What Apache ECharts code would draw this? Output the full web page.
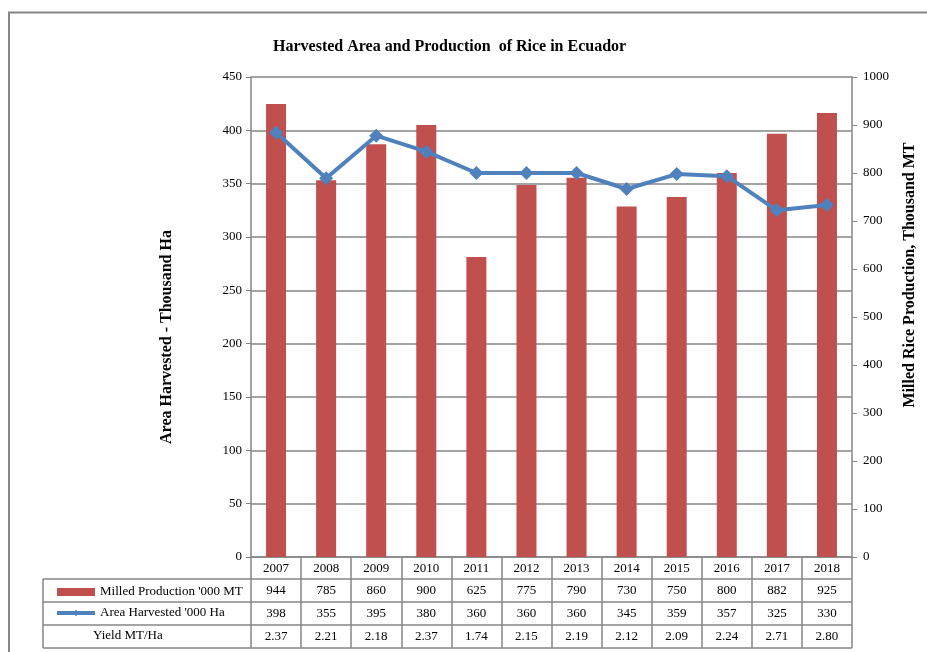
<!DOCTYPE html>
<html>
<head>
<meta charset="utf-8">
<script src="https://cdn.jsdelivr.net/npm/echarts@6/dist/echarts.min.js"></script>
<style>
  html, body { margin: 0; padding: 0; background: #fff; }
  #chart { width: 927px; height: 652px; }
</style>
</head>
<body>
<div id="chart"></div>
<script>
const years = ["2007", "2008", "2009", "2010", "2011", "2012", "2013", "2014", "2015", "2016", "2017", "2018"];
const production = [944, 785, 860, 900, 625, 775, 790, 730, 750, 800, 882, 925];
const areaHarvested = [398, 355, 395, 380, 360, 360, 360, 345, 359, 357, 325, 330];
const yieldPerHa = ["2.37", "2.21", "2.18", "2.37", "1.74", "2.15", "2.19", "2.12", "2.09", "2.24", "2.71", "2.80"];

const SERIF = "'Liberation Serif', 'Times New Roman', serif";
const GRAY = "#868686";
const RED = "#C0504D";
const BLUE = "#4F81BD";

const chart = echarts.init(document.getElementById("chart"), null, { renderer: "canvas" });

// table rows under the x axis: each row is a category axis pushed down with offset
function rowAxis(data, offset) {
  return {
    type: "category",
    data: data,
    position: "bottom",
    offset: offset,
    axisLine: { show: false, onZero: false },
    axisTick: { show: false },
    axisLabel: { interval: 0, margin: 5, color: "#000", fontFamily: SERIF, fontSize: 13 },
  };
}

const tableLeft = 43, tableRight = 852;
const rowLines = [579, 602, 625, 648];

const option = {
  backgroundColor: "#fff",
  animation: false,
  title: {
    text: "Harvested Area and Production  of Rice in Ecuador",
    left: 268,
    top: 34,
    textStyle: { fontFamily: SERIF, fontSize: 16, fontWeight: "bold", color: "#000" },
  },
  legend: {
    orient: "vertical",
    left: 50,
    top: 580,
    itemWidth: 38,
    itemHeight: 8,
    itemGap: 7,
    selectedMode: false,
    textStyle: { fontFamily: SERIF, fontSize: 13, color: "#000", lineHeight: 14 },
    data: [
      { name: "Milled Production '000 MT", icon: "rect" },
      { name: "Area Harvested '000 Ha", lineStyle: { width: 4 } },
    ],
  },
  grid: { left: 251, right: 75, top: 77, bottom: 95 },
  xAxis: [
    {
      type: "category",
      data: years,
      position: "bottom",
      axisLine: { onZero: false, lineStyle: { color: GRAY, width: 1.5 } },
      axisTick: { show: true, interval: 0, length: 91, lineStyle: { color: GRAY, width: 1.5 } },
      axisLabel: { interval: 0, margin: 5, color: "#000", fontFamily: SERIF, fontSize: 13 },
    },
    rowAxis(production.map(String), 22),
    rowAxis(areaHarvested.map(String), 45),
    rowAxis(yieldPerHa, 68),
  ],
  yAxis: [
    {
      type: "value",
      min: 0,
      max: 450,
      interval: 50,
      name: "Area Harvested - Thousand Ha",
      nameLocation: "middle",
      nameGap: 76,
      nameRotate: 90,
      nameTextStyle: { fontFamily: SERIF, fontSize: 16, fontWeight: "bold", color: "#000", padding: [0, 40, 0, 0] },
      axisLine: { show: true, lineStyle: { color: GRAY, width: 1.5 } },
      axisTick: { show: true, length: 5, lineStyle: { color: GRAY } },
      axisLabel: { margin: 9, color: "#000", fontFamily: SERIF, fontSize: 13 },
      splitLine: { show: true, lineStyle: { color: GRAY, width: 1.5 } },
    },
    {
      type: "value",
      min: 0,
      max: 1000,
      interval: 100,
      position: "right",
      name: "Milled Rice Production, Thousand MT",
      nameLocation: "middle",
      nameGap: 50,
      nameRotate: 90,
      nameTextStyle: { fontFamily: SERIF, fontSize: 16, fontWeight: "bold", color: "#000", padding: [0, 0, 0, 84] },
      axisLine: { show: true, lineStyle: { color: GRAY, width: 1.5 } },
      axisTick: { show: true, length: 5, lineStyle: { color: GRAY } },
      axisLabel: { margin: 11, color: "#000", fontFamily: SERIF, fontSize: 13, formatter: (v) => String(v) },
      splitLine: { show: false },
    },
  ],
  series: [
    {
      name: "Milled Production '000 MT",
      type: "bar",
      yAxisIndex: 1,
      barWidth: 20,
      itemStyle: { color: RED },
      data: production,
    },
    {
      name: "Area Harvested '000 Ha",
      type: "line",
      yAxisIndex: 0,
      symbol: "diamond",
      symbolSize: 14,
      lineStyle: { color: BLUE, width: 4 },
      itemStyle: { color: BLUE },
      z: 5,
      data: areaHarvested,
    },
  ],
  graphic: [
    {
      type: "rect",
      z: -1,
      shape: { x: 9, y: 12.5, width: 1000, height: 700 },
      style: { fill: null, stroke: GRAY, lineWidth: 2 },
    },
    ...rowLines.map((y) => ({
      type: "line",
      shape: { x1: tableLeft, y1: y, x2: tableRight, y2: y },
      style: { stroke: GRAY, lineWidth: 1.5 },
    })),
    {
      type: "line",
      shape: { x1: tableLeft, y1: rowLines[0], x2: tableLeft, y2: rowLines[3] },
      style: { stroke: GRAY, lineWidth: 1.5 },
    },
    {
      type: "text",
      x: 93,
      y: 636,
      style: { text: "Yield MT/Ha", fontFamily: SERIF, fontSize: 13, fill: "#000", verticalAlign: "middle" },
    },
  ],
};

chart.setOption(option);
window.addEventListener("resize", () => chart.resize());
</script>
</body>
</html>
